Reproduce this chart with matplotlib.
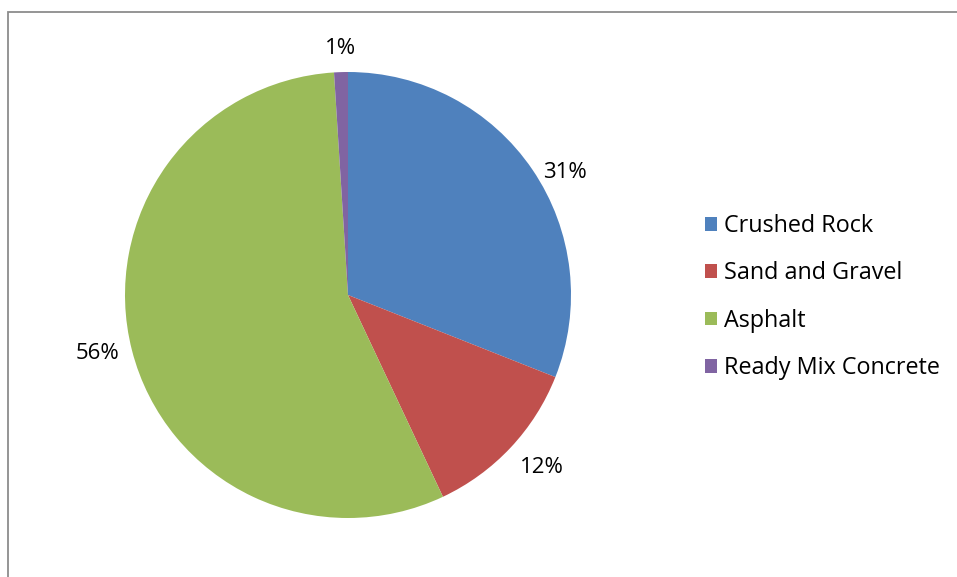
import numpy as np
import matplotlib.pyplot as plt
from matplotlib.patches import Rectangle

plt.rcParams['font.family'] = ['Open Sans', 'DejaVu Sans']

# data
products = ['Crushed Rock', 'Sand and Gravel', 'Asphalt', 'Ready Mix Concrete']
shares = [31, 12, 56, 1]
colors = ['#4F81BD', '#C0504D', '#9BBB59', '#8064A2']
title = 'Figure 3: Energy consumption by product (aggregates)'

W, H = 957, 577
fig = plt.figure(figsize=(W / 100, H / 100), dpi=100)

# chart frame (partly outside the picture)
fig.add_artist(Rectangle((8 / W, -0.1), 1.2, 1 - 12 / H + 0.1,
                         transform=fig.transFigure, fill=False,
                         edgecolor='#8c8c8c', linewidth=1.3))

# title, mostly cut off at the top
fig.text(501 / W, 1 + 6.5 / H, title, ha='center', va='baseline',
         fontsize=18, fontweight='bold')

# pie axes: center (348, 295) px, radius 223 px
cx, cy, r = 348, H - 295, 223
lim = 1.35
ax = fig.add_axes([(cx - r * lim) / W, (cy - r * lim) / H,
                   2 * r * lim / W, 2 * r * lim / H])
wedges, texts = ax.pie(shares, colors=colors, startangle=90, counterclock=False,
                       labels=[f'{v}%' for v in shares], labeldistance=1.06,
                       wedgeprops={'linewidth': 0},
                       textprops={'fontsize': 16})
# excel-like label placement
for t in texts:
    x, y = t.get_position()
    a = np.arctan2(y, x)
    if abs(np.cos(a)) < 0.2:
        t.set_ha('center')
        t.set_va('bottom' if y > 0 else 'top')
    elif np.sin(a) < -0.6:
        t.set_va('top')
    elif np.sin(a) > 0.4:
        t.set_va('top')
ax.set_xlim(-lim, lim)
ax.set_ylim(-lim, lim)
ax.set_aspect('equal')
ax.axis('off')

fig.legend(wedges, products, loc='center left',
           bbox_to_anchor=(684 / W, 1 - 297 / H), frameon=False,
           fontsize=16.8, handlelength=0.52, handleheight=0.52,
           handletextpad=0.3, labelspacing=1.0)

fig.savefig('out.png', dpi=100)
